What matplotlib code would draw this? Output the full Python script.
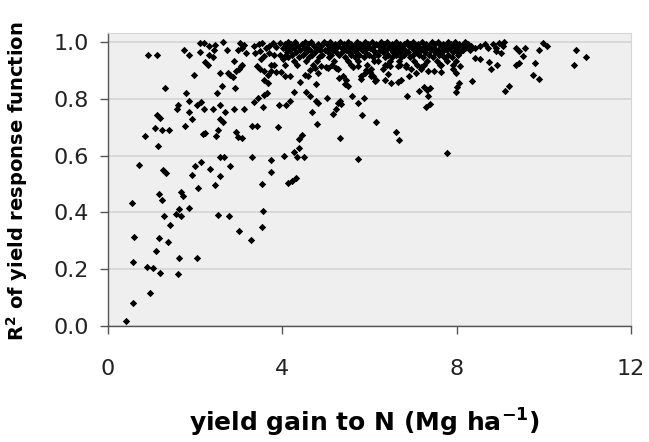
import numpy as np
import matplotlib.pyplot as plt

# scattered points: yield gain to N (Mg/ha) vs R^2 of yield response function
gain = [
    # low left
    0.41, 0.57, 0.97, 0.89, 1.03, 1.20, 1.60, 0.57, 1.62, 2.05, 1.09, 1.38, 1.16, 0.59,
    1.42, 1.29, 1.56, 1.67, 1.64, 1.86, 2.52, 2.77, 3.00, 3.27, 3.53, 3.55, 0.54, 1.18,
    1.24, 1.67, 1.71, 2.06, 2.45, 3.53, 4.12, 4.22, 4.32,
    # upper left
    0.91, 1.12, 1.74, 1.87, 2.10, 2.21, 2.10, 2.32, 2.45, 2.44, 2.31, 2.42, 2.63, 2.72,
    2.23, 2.29, 2.90, 2.98, 3.08, 3.16, 3.04, 3.11, 3.08, 3.01, 2.94, 3.05, 1.98, 2.58,
    2.75, 2.81, 2.86, 1.30, 2.61, 2.91, 2.49, 1.78,
    3.34, 3.46, 3.53, 3.62, 3.70, 3.78, 3.86, 3.95, 4.01, 3.38, 3.48, 3.59, 3.69, 3.80,
    3.94, 4.05, 3.52, 3.43, 3.48, 3.59, 3.67, 3.75, 3.86, 3.98, 4.05, 3.59, 3.67, 4.01,
    3.82, 3.73,
    # middle left
    1.85, 1.61, 1.58, 2.05, 2.13, 1.87, 2.20, 2.41, 2.56, 2.68, 2.89, 3.12, 3.36, 3.44,
    3.56, 3.59, 3.65, 3.92, 4.08, 1.13, 1.19, 1.93, 2.56, 2.64, 1.07, 1.24, 1.40, 0.86,
    1.77, 2.19, 2.23, 2.48, 2.52, 2.94, 2.98, 3.08, 3.30, 3.43, 3.90, 1.15, 0.70, 1.26,
    1.34, 2.58, 2.66, 3.30, 3.75, 4.03, 2.13, 2.00, 2.34, 2.80, 1.93, 2.57, 3.73,
    # middle right
    4.17, 4.69, 4.79, 4.78, 4.82, 4.64, 4.27, 4.55, 5.02, 5.17, 5.23, 5.28, 5.35, 5.32,
    5.73, 5.82, 6.15, 6.61, 6.68, 5.32, 5.73, 7.78, 4.38, 4.46, 4.27, 4.38, 4.33, 4.50,
    5.60, 5.87, 6.86, 7.13, 7.24, 7.33, 7.38, 7.34, 7.39, 7.29,
    4.05, 4.17, 4.41, 4.78, 5.39, 5.47, 5.43, 5.51, 5.28, 5.73, 5.81, 5.89, 6.03, 6.13,
    6.35, 6.50, 6.73, 6.90, 6.96, 6.65, 4.51, 4.63, 4.74, 4.89, 5.05, 4.60, 4.82, 6.19,
    6.35, 6.46, 6.04, 7.10, 7.17, 6.65, 6.42, 6.31, 6.16, 6.08, 6.00, 5.93, 5.81, 6.69,
    6.84, 5.31, 5.24, 5.01, 5.62,
    7.99, 8.01, 8.05, 8.36, 7.99, 7.91, 7.91, 7.99, 8.07, 7.34, 7.49, 7.65, 7.65, 7.19,
    7.07,
    # right
    8.41, 8.53, 8.75, 8.79, 8.92, 8.53, 8.64, 8.72, 8.83, 8.91, 8.98, 9.06, 9.02, 8.91,
    9.10, 9.20, 9.37, 9.44, 9.56, 9.52, 9.37, 9.44, 9.79, 9.75, 9.89, 9.89, 9.98, 10.07,
    10.74, 10.96, 10.70, 9.08,
]
r2 = [
    0.019, 0.082, 0.116, 0.208, 0.204, 0.188, 0.182, 0.224, 0.239, 0.241, 0.265, 0.297, 0.309, 0.313,
    0.356, 0.386, 0.393, 0.386, 0.412, 0.414, 0.390, 0.387, 0.334, 0.303, 0.350, 0.406, 0.433, 0.464,
    0.444, 0.473, 0.459, 0.485, 0.495, 0.498, 0.504, 0.509, 0.520,
    0.952, 0.954, 0.973, 0.953, 0.996, 0.995, 0.965, 0.985, 0.989, 0.973, 0.954, 0.946, 1.001, 0.971,
    0.928, 0.919, 0.933, 0.973, 0.980, 0.959, 0.996, 0.990, 0.919, 0.905, 0.897, 0.914, 0.883, 0.891,
    0.891, 0.883, 0.877, 0.838, 0.845, 0.838, 0.819, 0.819,
    0.985, 0.991, 0.996, 0.979, 0.987, 0.996, 0.982, 0.996, 0.979, 0.961, 0.967, 0.949, 0.959, 0.955,
    0.952, 0.949, 0.938, 0.914, 0.905, 0.897, 0.885, 0.897, 0.893, 0.893, 0.879, 0.867, 0.856, 0.938,
    0.920, 0.920,
    0.791, 0.779, 0.764, 0.779, 0.787, 0.754, 0.762, 0.764, 0.776, 0.754, 0.764, 0.764, 0.787, 0.803,
    0.771, 0.814, 0.820, 0.779, 0.778, 0.741, 0.732, 0.729, 0.727, 0.717, 0.697, 0.691, 0.691, 0.670,
    0.703, 0.674, 0.680, 0.670, 0.689, 0.683, 0.664, 0.662, 0.703, 0.703, 0.700, 0.633, 0.566, 0.548,
    0.539, 0.594, 0.594, 0.596, 0.583, 0.600, 0.576, 0.562, 0.551, 0.562, 0.533, 0.529, 0.541,
    0.792, 0.752, 0.712, 0.791, 0.783, 0.808, 0.823, 0.823, 0.803, 0.745, 0.765, 0.786, 0.781, 0.792,
    0.783, 0.744, 0.718, 0.682, 0.653, 0.662, 0.587, 0.608, 0.657, 0.671, 0.612, 0.626, 0.594, 0.593,
    0.810, 0.802, 0.809, 0.828, 0.842, 0.832, 0.838, 0.808, 0.782, 0.770,
    0.920, 0.879, 0.857, 0.853, 0.879, 0.867, 0.850, 0.844, 0.903, 0.914, 0.879, 0.891, 0.879, 0.862,
    0.867, 0.856, 0.867, 0.879, 0.903, 0.914, 0.885, 0.900, 0.908, 0.914, 0.908, 0.879, 0.891, 0.932,
    0.920, 0.914, 0.903, 0.920, 0.903, 0.859, 0.886, 0.903, 0.865, 0.879, 0.895, 0.901, 0.868, 0.919,
    0.913, 0.874, 0.907, 0.913, 0.913,
    0.825, 0.840, 0.854, 0.862, 0.891, 0.903, 0.920, 0.932, 0.914, 0.897, 0.897, 0.893, 0.917, 0.912,
    0.889,
    0.944, 0.938, 0.929, 0.905, 0.917, 0.985, 0.991, 0.979, 0.991, 0.979, 0.996, 0.985, 0.961, 0.967,
    0.826, 0.846, 0.979, 0.967, 0.979, 0.949, 0.920, 0.926, 0.926, 0.885, 0.870, 0.973, 0.996, 0.985,
    0.970, 0.947, 0.920, 1.001,
]

# dense band close to R^2 = 1 (x between 4 and 8.5), read row by row
band_levels = [0.998, 0.992, 0.986, 0.979, 0.972, 0.964, 0.955, 0.945, 0.933, 0.920]
band_gain = [
    [4.12, 4.30, 4.52, 4.66, 4.95, 5.10, 5.33, 5.50, 5.71, 5.90, 6.05, 6.27, 6.40, 6.61, 6.86,
     7.00, 7.21, 7.44, 7.58, 7.80, 7.97, 8.18],
    [4.05, 4.21, 4.44, 4.60, 4.81, 5.02, 5.20, 5.41, 5.58, 5.79, 5.97, 6.16, 6.33, 6.52, 6.70,
     6.78, 6.93, 7.12, 7.30, 7.51, 7.69, 7.88, 8.05, 8.26],
    [4.15, 4.36, 4.72, 4.89, 5.14, 5.28, 5.47, 5.64, 5.85, 6.10, 6.22, 6.45, 6.63, 6.90, 7.06,
     7.25, 7.37, 7.63, 7.75, 7.93, 8.12, 8.33],
    [4.08, 4.26, 4.49, 4.57, 4.78, 5.06, 5.24, 5.37, 5.55, 5.74, 5.94, 6.02, 6.30, 6.48, 6.57,
     6.74, 6.97, 7.16, 7.33, 7.47, 7.71, 7.84, 8.01, 8.20, 8.41],
    [4.18, 4.40, 4.63, 4.86, 4.99, 5.17, 5.45, 5.61, 5.82, 6.08, 6.25, 6.38, 6.66, 6.82, 7.02,
     7.19, 7.40, 7.56, 7.78, 7.99, 8.14, 8.30],
    [4.10, 4.31, 4.54, 4.75, 5.04, 5.22, 5.38, 5.52, 5.70, 5.90, 6.13, 6.31, 6.55, 6.71, 6.88,
     7.08, 7.27, 7.50, 7.66, 7.91, 8.08],
    [4.23, 4.47, 4.69, 4.92, 5.12, 5.31, 5.58, 5.77, 5.99, 6.20, 6.43, 6.60, 6.79, 6.99, 7.14,
     7.36, 7.59, 7.81, 8.02],
    [4.14, 4.38, 4.61, 4.84, 5.08, 5.43, 5.66, 5.88, 6.07, 6.35, 6.52, 6.73, 6.94, 7.22, 7.45,
     7.70, 7.89],
    [4.27, 4.55, 4.79, 5.18, 5.50, 5.73, 6.11, 6.46, 6.68, 7.03, 7.31, 7.54, 7.77],
    [4.34, 4.71, 5.15, 5.57, 5.95, 6.39, 6.84, 7.26, 7.62],
]

x = list(gain)
y = list(r2)
for level, row in zip(band_levels, band_gain):
    x += row
    y += [level] * len(row)

fig = plt.figure(figsize=(6.49, 4.42), dpi=100)
ax = fig.add_axes([0.1664, 0.2624, 0.8059, 0.6629])
ax.set_facecolor('#efefef')

ax.scatter(x, y, marker='D', s=14, color='black', linewidths=0, zorder=3)

ax.set_xlim(0, 12)
ax.set_ylim(0, 1.031)
ax.set_xticks([0, 4, 8, 12])
ax.set_yticks(np.arange(0, 1.01, 0.2))
ax.set_yticklabels(['0.0', '0.2', '0.4', '0.6', '0.8', '1.0'])
ax.yaxis.grid(True, color='#d4d4d4', linewidth=1.2)
ax.set_axisbelow(True)

for side in ['top', 'right']:
    ax.spines[side].set_color('#d6d6d6')
for side in ['left', 'bottom']:
    ax.spines[side].set_color('#555555')
    ax.spines[side].set_linewidth(1.0)

ax.tick_params(axis='y', direction='out', length=6, width=1, color='#555555',
               labelsize=16, pad=8, labelcolor='#222222')
ax.tick_params(axis='x', direction='out', length=6, width=1, color='#555555',
               labelsize=16, pad=18, labelcolor='#222222')

ax.set_xlabel(r'yield gain to N (Mg ha$^{\mathbf{-1}}$)', fontsize=18, fontweight='bold')
ax.set_ylabel(r'R$^{\mathbf{2}}$ of yield response function', fontsize=14, fontweight='bold')
ax.xaxis.set_label_coords(0.491, -0.275)
ax.yaxis.set_label_coords(-0.15, 0.495)

fig.savefig('out.png', dpi=100)
